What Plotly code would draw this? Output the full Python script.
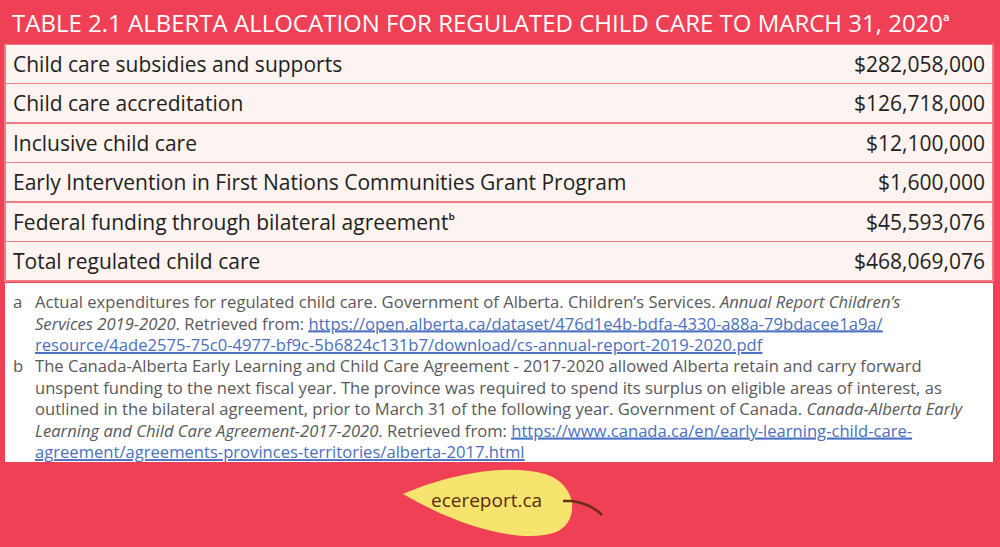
import plotly.graph_objects as go

# ---------------- data ----------------
title = "TABLE 2.1 ALBERTA ALLOCATION FOR REGULATED CHILD CARE TO MARCH 31, 2020ᵃ"
categories = [
    "Child care subsidies and supports",
    "Child care accreditation",
    "Inclusive child care",
    "Early Intervention in First Nations Communities Grant Program",
    "Federal funding through bilateral agreementᵇ",
    "Total regulated child care",
]
amounts = [282058000, 126718000, 12100000, 1600000, 45593076, 468069076]

link_a1 = "https://open.alberta.ca/dataset/476d1e4b-bdfa-4330-a88a-79bdacee1a9a/"
link_a2 = "resource/4ade2575-75c0-4977-bf9c-5b6824c131b7/download/cs-annual-report-2019-2020.pdf"
link_b1 = "https://www.canada.ca/en/early-learning-child-care-"
link_b2 = "agreement/agreements-provinces-territories/alberta-2017.html"
note_letters = ["a", "b"]
site = "ecereport.ca"

# ---------------- style ----------------
RED = "#EF4055"
PINK = "#FDF3F1"
LINE = "#F27A86"
TXT = "#231F20"
GRAY = "#58595B"
LINKC = "#4A6FBF"
FONT = "'Open Sans', Lato, sans-serif"


def lnk(t, href):
    return (f"<a href='{href}' style='color:{LINKC};text-decoration:underline'>"
            f"<span style='color:{LINKC};text-decoration:underline'>{t}</span></a>")


full_a = link_a1 + link_a2
full_b = link_b1 + link_b2

note_a = "<br>".join([
    "Actual expenditures for regulated child care. Government of Alberta. Children’s Services. <i>Annual Report Children’s</i>",
    "<i>Services 2019-2020</i>. Retrieved from: " + lnk(link_a1, full_a),
    lnk(link_a2, full_a),
])
note_b = "<br>".join([
    "The Canada-Alberta Early Learning and Child Care Agreement - 2017-2020 allowed Alberta retain and carry forward",
    "unspent funding to the next fiscal year. The province was required to spend its surplus on eligible areas of interest, as",
    "outlined in the bilateral agreement, prior to March 31 of the following year. Government of Canada. <i>Canada-Alberta Early</i>",
    "<i>Learning and Child Care Agreement-2017-2020</i>. Retrieved from: " + lnk(link_b1, full_b),
    lnk(link_b2, full_b),
])
notes = [note_a, note_b]

W, H = 1000, 547
HEAD_H = 44
ROW_H = 39.5
TXT_SHIFT = 4  # push row text a little lower inside its cell
dom_grid = dict(x=[5 / W, 993 / W], y=[1 - 284 / H, 1])
dom_text = dict(x=[5 / W, 993 / W], y=[1 - (284 + TXT_SHIFT) / H, 1 - TXT_SHIFT / H])

fig = go.Figure()

# grid table: row fills and separators
fig.add_trace(go.Table(
    domain=dom_grid,
    columnwidth=[1],
    header=dict(values=[""], fill_color=RED, line=dict(color=RED, width=0), height=HEAD_H),
    cells=dict(values=[[""] * len(categories)], fill_color=PINK, line=dict(color=LINE, width=1.5),
               height=ROW_H),
))
# text table: labels and amounts
fig.add_trace(go.Table(
    domain=dom_text,
    columnwidth=[790, 198],
    header=dict(values=["", ""], fill_color="rgba(0,0,0,0)",
                line=dict(color="rgba(0,0,0,0)", width=0), height=HEAD_H),
    cells=dict(values=[categories, [f"${v:,}" for v in amounts]],
               fill_color="rgba(0,0,0,0)", line=dict(color="rgba(0,0,0,0)", width=0),
               align=["left", "right"], height=ROW_H,
               font=dict(family=FONT, size=21, color=TXT)),
))

# pixel-space helper axes
fig.update_xaxes(range=[0, W], visible=False, fixedrange=True)
fig.update_yaxes(range=[H, 0], visible=False, fixedrange=True)
fig.add_trace(go.Scatter(x=[0], y=[0], mode="markers", marker=dict(opacity=0), hoverinfo="skip", showlegend=False))

shapes = [
    # white footnote panel
    dict(type="rect", x0=5, x1=993, y0=283, y1=462, fillcolor="white", line=dict(width=0), layer="below"),
    # leaf
    dict(type="path",
         path="M 403,494 C 440,478 500,462 545,474 C 578,484 580,522 556,532 C 528,543 468,532 403,494 Z",
         fillcolor="#F7E46E", line=dict(width=0), layer="above"),
    # stem
    dict(type="path", path="M 563,501 L 572,501 C 585,503 595,508 602,515",
         line=dict(color="#6B2E0E", width=2.5), layer="above"),
]

annotations = [dict(x=10, y=22, xref="x", yref="y", text=title, showarrow=False,
                    xanchor="left", yanchor="middle",
                    font=dict(family=FONT, size=24, color="white"))]
note_y = [288, 352]
for letter, txt, y in zip(note_letters, notes, note_y):
    annotations.append(dict(x=11, y=y, xref="x", yref="y", text=letter, showarrow=False,
                            xanchor="left", yanchor="top", align="left",
                            font=dict(family=FONT, size=16.6, color=GRAY)))
    annotations.append(dict(x=33, y=y, xref="x", yref="y", text=txt, showarrow=False,
                            xanchor="left", yanchor="top", align="left",
                            font=dict(family=FONT, size=16.6, color=GRAY)))
annotations.append(dict(x=486, y=500, xref="x", yref="y", text=site, showarrow=False,
                        xanchor="center", yanchor="middle",
                        font=dict(family=FONT, size=19, color="#5B2A0E")))

fig.update_layout(
    width=W, height=H,
    margin=dict(l=0, r=0, t=0, b=0),
    paper_bgcolor=RED, plot_bgcolor=RED,
    shapes=shapes, annotations=annotations,
    showlegend=False,
)

fig.write_html("out.html", config={"displayModeBar": False},
               post_script="document.body.style.margin='0';document.body.style.background='" + RED + "';")
